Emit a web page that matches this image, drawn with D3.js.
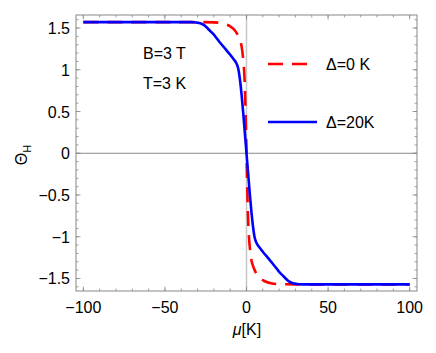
<!DOCTYPE html>
<html>
<head>
<meta charset="utf-8">
<script src="https://cdn.jsdelivr.net/npm/d3@7"></script>
<style>
  body { margin: 0; background: #fff; }
  text { font-family: "Liberation Sans", Arial, sans-serif; }
</style>
</head>
<body>
<div id="chart"></div>
<script>
// Delta = 0 K (red dashed)
var muRed    = [-100, -30, -20, -15, -12, -10, -8, -6, -5, -4, -3, -2, -1.5, -1, -0.5, 0,
                0.5, 1, 1.5, 2, 3, 4, 5, 6, 8, 10, 12, 15, 20, 30, 100];
var thetaRed = [1.5708, 1.5706, 1.568, 1.558, 1.54, 1.52, 1.49, 1.44, 1.40, 1.35, 1.28, 1.12, 1.00, 0.80, 0.45, 0,
                -0.45, -0.80, -1.00, -1.12, -1.28, -1.35, -1.40, -1.44, -1.49, -1.52, -1.54, -1.558, -1.568, -1.5706, -1.5708];

// Delta = 20 K (blue solid)
var muBlue    = [-100, -34, -31, -28, -26, -24, -22, -20, -18, -16, -13, -10, -8, -6, -5, -4, -3, -2, -1, 0,
                 1, 2, 3, 4, 5, 6, 8, 10, 13, 16, 18, 20, 22, 24, 26, 28, 31, 34, 100];
var thetaBlue = [1.5708, 1.5705, 1.566, 1.555, 1.535, 1.50, 1.46, 1.42, 1.37, 1.32, 1.25, 1.18, 1.13, 1.07, 1.01, 0.88, 0.70, 0.48, 0.24, 0,
                 -0.24, -0.48, -0.70, -0.88, -1.01, -1.07, -1.13, -1.18, -1.25, -1.32, -1.37, -1.42, -1.46, -1.50, -1.535, -1.555, -1.566, -1.5705, -1.5708];

var xTicks = [-100, -50, 0, 50, 100];
var yTicks = [-1.5, -1, -0.5, 0, 0.5, 1, 1.5];
var legendLabels = ["\u0394=0 K", "\u0394=20K"];
var notes = ["B=3 T", "T=3 K"];

var width = 436, height = 353;
var margin = {top: 15, right: 19, bottom: 62, left: 76};
var w = width - margin.left - margin.right,
    h = height - margin.top - margin.bottom;

var svg = d3.select("#chart").append("svg")
    .attr("width", width)
    .attr("height", height);

var g = svg.append("g")
    .attr("transform", "translate(" + margin.left + "," + margin.top + ")");

var x = d3.scaleLinear().domain([-104.5, 104.5]).range([0, w]);
var y = d3.scaleLinear().domain([-1.65, 1.656]).range([h, 0]);

g.append("clipPath").attr("id", "clip")
  .append("rect").attr("width", w).attr("height", h);

// zero lines
g.append("line")
    .attr("x1", x(0)).attr("x2", x(0)).attr("y1", 0).attr("y2", h)
    .attr("stroke", "#c8c8c8").attr("stroke-width", 1.5);
g.append("line")
    .attr("x1", 0).attr("x2", w).attr("y1", y(0)).attr("y2", y(0))
    .attr("stroke", "#888").attr("stroke-width", 1);

// frame ticks
var frameColor = "#888";
var xMinor = d3.range(-100, 101, 10);
var yMinor = d3.range(-16, 17).map(d => d / 10);

function tickLines(vals, isX, len) {
  vals.forEach(v => {
    if (isX) {
      var px = x(v);
      g.append("line").attr("x1", px).attr("x2", px).attr("y1", h).attr("y2", h - len)
        .attr("stroke", frameColor).attr("stroke-width", 0.8);
      g.append("line").attr("x1", px).attr("x2", px).attr("y1", 0).attr("y2", len)
        .attr("stroke", frameColor).attr("stroke-width", 0.8);
    } else {
      var py = y(v);
      g.append("line").attr("x1", 0).attr("x2", len).attr("y1", py).attr("y2", py)
        .attr("stroke", frameColor).attr("stroke-width", 0.8);
      g.append("line").attr("x1", w).attr("x2", w - len).attr("y1", py).attr("y2", py)
        .attr("stroke", frameColor).attr("stroke-width", 0.8);
    }
  });
}
tickLines(xMinor, true, 2.5);
tickLines(xTicks, true, 4.5);
tickLines(yMinor, false, 2.5);
tickLines(yTicks, false, 4.5);

g.append("rect")
    .attr("width", w).attr("height", h)
    .attr("fill", "none").attr("stroke", frameColor).attr("stroke-width", 1);

function fmt(v) { return (v < 0 ? "\u2212" : "") + Math.abs(v); }

g.selectAll(".xl").data(xTicks).enter().append("text")
    .attr("x", d => x(d)).attr("y", h + 22)
    .attr("text-anchor", "middle")
    .attr("font-size", 16)
    .text(fmt);

g.selectAll(".yl").data(yTicks).enter().append("text")
    .attr("x", -6).attr("y", d => y(d) + 6)
    .attr("text-anchor", "end")
    .attr("font-size", 16)
    .text(fmt);

// curves
var plot = g.append("g").attr("clip-path", "url(#clip)");
var line = d3.line().x(d => x(d[0])).y(d => y(d[1])).curve(d3.curveMonotoneX);

plot.append("path")
    .datum(d3.zip(muRed, thetaRed))
    .attr("fill", "none").attr("stroke", "#ff0000")
    .attr("stroke-width", 2.6)
    .attr("stroke-dasharray", "15,9")
    .attr("d", line);

plot.append("path")
    .datum(d3.zip(muBlue, thetaBlue))
    .attr("fill", "none").attr("stroke", "#0000ff")
    .attr("stroke-width", 2.6)
    .attr("d", line);

// annotations
g.append("text").attr("x", 67).attr("y", 53 - margin.top + 6)
    .attr("font-size", 16).text(notes[0]);
g.append("text").attr("x", 67).attr("y", 83 - margin.top + 6)
    .attr("font-size", 16).text(notes[1]);

// legend
var lx0 = 268 - margin.left, lx1 = 313 - margin.left;
g.append("line").attr("x1", lx0).attr("x2", lx1)
    .attr("y1", 64 - margin.top).attr("y2", 64 - margin.top)
    .attr("stroke", "#ff0000").attr("stroke-width", 2.6)
    .attr("stroke-dasharray", "15,9");
g.append("line").attr("x1", lx0).attr("x2", 317 - margin.left)
    .attr("y1", 122 - margin.top).attr("y2", 122 - margin.top)
    .attr("stroke", "#0000ff").attr("stroke-width", 2.6);
g.append("text").attr("x", 326 - margin.left).attr("y", 64 - margin.top + 6)
    .attr("font-size", 16).text(legendLabels[0]);
g.append("text").attr("x", 326 - margin.left).attr("y", 122 - margin.top + 6)
    .attr("font-size", 16).text(legendLabels[1]);

// axis labels
var yl = svg.append("text")
    .attr("transform", "translate(27,155) rotate(-90)")
    .attr("text-anchor", "middle")
    .attr("font-size", 16);
yl.append("tspan").text("\u0398");
yl.append("tspan").attr("font-size", 11).attr("dy", 4).text("H");

var xl = svg.append("text")
    .attr("x", 247).attr("y", 335)
    .attr("text-anchor", "middle")
    .attr("font-size", 16);
xl.append("tspan").attr("font-style", "italic").text("\u03bc");
xl.append("tspan").text("[K]");
</script>
</body>
</html>
